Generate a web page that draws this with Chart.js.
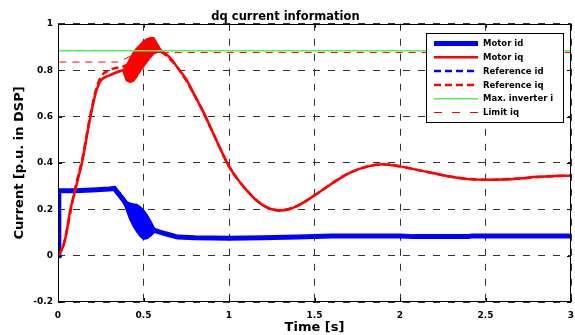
<!DOCTYPE html>
<html lang="en">
<head>
<meta charset="UTF-8" />
<title>dq current information</title>
<script src="https://cdn.jsdelivr.net/npm/chart.js"></script>
<style>
  html, body { margin: 0; padding: 0; background: #fff; }
</style>
</head>
<body>
<canvas id="dqChart" width="575" height="335"></canvas>
<script>
// values (time in s, current in p.u.)
const idTime = [0, 0.005, 0.1, 0.2, 0.3, 0.33, 0.35, 0.38, 0.44, 0.5, 0.56, 0.6, 0.65, 0.7, 0.8, 1.0, 1.2, 1.4, 1.6, 2.0, 2.08, 2.4, 2.42, 3.0];
const idValues = [0, 0.28, 0.28, 0.283, 0.287, 0.29, 0.27, 0.243, 0.175, 0.13, 0.11, 0.1, 0.09, 0.08, 0.077, 0.075, 0.077, 0.08, 0.085, 0.085, 0.082, 0.082, 0.085, 0.085];

const idBandTime = [0.38, 0.40, 0.42, 0.44, 0.46, 0.48, 0.50, 0.52, 0.54, 0.56, 0.58];
const idBandUpper = [0.245, 0.232, 0.225, 0.222, 0.22, 0.21, 0.195, 0.175, 0.15, 0.12, 0.105];
const idBandLower = [0.24, 0.2, 0.16, 0.13, 0.105, 0.085, 0.072, 0.075, 0.085, 0.1, 0.105];

const iqTime = [0, 0.03, 0.05, 0.07, 0.1, 0.12, 0.14, 0.165, 0.19, 0.22, 0.25, 0.3, 0.34, 0.38, 0.44, 0.5, 0.55, 0.6, 0.63, 0.66, 0.7, 0.75, 0.8, 0.85, 0.9, 0.95, 1.0, 1.05, 1.1, 1.15, 1.2, 1.25, 1.3, 1.35, 1.4, 1.45, 1.5, 1.6, 1.7, 1.8, 1.9, 2.0, 2.1, 2.2, 2.3, 2.4, 2.5, 2.6, 2.7, 2.8, 2.9, 3.0];
const iqValues = [0, 0.04, 0.1, 0.19, 0.28, 0.34, 0.4, 0.5, 0.6, 0.7, 0.755, 0.777, 0.79, 0.8, 0.81, 0.86, 0.9, 0.88, 0.87, 0.85, 0.81, 0.76, 0.69, 0.62, 0.54, 0.46, 0.385, 0.33, 0.285, 0.245, 0.217, 0.2, 0.195, 0.2, 0.215, 0.235, 0.26, 0.31, 0.355, 0.383, 0.394, 0.385, 0.37, 0.355, 0.34, 0.33, 0.327, 0.328, 0.333, 0.34, 0.343, 0.345];

const iqBandTime = [0.38, 0.40, 0.42, 0.44, 0.46, 0.48, 0.50, 0.52, 0.54, 0.56, 0.58, 0.60, 0.62];
const iqBandUpper = [0.80, 0.82, 0.85, 0.875, 0.895, 0.91, 0.925, 0.935, 0.94, 0.94, 0.915, 0.89, 0.878];
const iqBandLower = [0.795, 0.755, 0.748, 0.752, 0.77, 0.795, 0.815, 0.835, 0.855, 0.87, 0.877, 0.878, 0.878];

const refIdTime = [0, 0.005, 0.33, 0.36, 0.4, 0.45, 0.5, 0.55, 0.6, 0.7, 1.0, 1.5, 2.0, 2.5, 3.0];
const refIdValues = [0, 0.28, 0.285, 0.27, 0.23, 0.18, 0.13, 0.11, 0.1, 0.08, 0.076, 0.082, 0.085, 0.084, 0.085];

const refIqTime = [0, 0.03, 0.06, 0.1, 0.14, 0.19, 0.22, 0.25, 0.3, 0.34, 0.38, 0.42, 0.46, 0.5, 0.55, 0.6, 0.7, 0.8, 0.9, 1.0, 1.1, 1.2, 1.3, 1.4, 1.5, 1.7, 1.9, 2.1, 2.3, 2.5, 2.7, 2.9, 3.0];
const refIqValues = [0, 0.04, 0.14, 0.29, 0.41, 0.61, 0.71, 0.77, 0.80, 0.81, 0.815, 0.83, 0.85, 0.87, 0.89, 0.88, 0.81, 0.69, 0.54, 0.385, 0.285, 0.217, 0.195, 0.215, 0.26, 0.355, 0.394, 0.37, 0.34, 0.327, 0.333, 0.343, 0.345];

const maxTime = [0, 3];
const maxValues = [0.884, 0.884];

const limitTime = [0, 0, 0.35, 0.40, 0.44, 0.50, 0.56, 3.0];
const limitValues = [0, 0.835, 0.835, 0.852, 0.866, 0.873, 0.876, 0.876];

const xTicks = { min: 0, max: 3, step: 0.5 };
const yTicks = { min: -0.2, max: 1, step: 0.2 };

function pts(xs, ys) {
  return xs.map((x, i) => ({ x: x, y: ys[i] }));
}

// matlab style labels: 0, 0.5, 1 ... no trailing zeros, no -0
function tickText(v) {
  const r = Math.round(v * 10) / 10;
  return r === 0 ? "0" : String(r);
}

const BLUE = "#0000ff";
const RED = "#ff0000";
const GREEN = "#55ee55";
const GRID = "#333";

// frame with small inward ticks, like the matlab axes box
const framePlugin = {
  id: "frame",
  afterDatasetsDraw(chart) {
    const { ctx, chartArea: a, scales } = chart;
    ctx.save();
    ctx.strokeStyle = "#000";
    ctx.lineWidth = 1;
    ctx.beginPath();
    scales.x.ticks.forEach((t) => {
      const px = Math.round(scales.x.getPixelForValue(t.value)) + 0.5;
      ctx.moveTo(px, a.bottom); ctx.lineTo(px, a.bottom - 4);
      ctx.moveTo(px, a.top); ctx.lineTo(px, a.top + 4);
    });
    scales.y.ticks.forEach((t) => {
      const py = Math.round(scales.y.getPixelForValue(t.value)) + 0.5;
      ctx.moveTo(a.left, py); ctx.lineTo(a.left + 4, py);
      ctx.moveTo(a.right, py); ctx.lineTo(a.right - 4, py);
    });
    ctx.stroke();
    ctx.strokeRect(Math.round(a.left) + 0.5, Math.round(a.top) + 0.5,
      Math.round(a.right - a.left) - 1, Math.round(a.bottom - a.top) - 1);
    ctx.restore();
  },
};

// legend box inside the plot (top right)
const boxLegend = {
  id: "boxLegend",
  afterDraw(chart) {
    const ctx = chart.ctx;
    const items = chart.data.datasets.filter((d) => d.showInBox);
    const x0 = 426, y0 = 33, w = 137, h = 89;
    ctx.save();
    ctx.fillStyle = "#fff";
    ctx.fillRect(x0, y0, w, h);
    ctx.strokeStyle = "#000";
    ctx.lineWidth = 1;
    ctx.strokeRect(x0 + 0.5, y0 + 0.5, w, h);
    ctx.font = 'bold 8.5px "DejaVu Sans"';
    ctx.textBaseline = "middle";
    items.forEach((d, i) => {
      const y = y0 + 10.5 + i * 13.8;
      ctx.beginPath();
      ctx.setLineDash(d.legendDash || d.borderDash || []);
      ctx.strokeStyle = d.borderColor;
      ctx.lineWidth = d.borderWidth;
      ctx.moveTo(x0 + 8, y);
      ctx.lineTo(x0 + 52, y);
      ctx.stroke();
      ctx.setLineDash([]);
      ctx.fillStyle = "#000";
      ctx.fillText(d.label, x0 + 57, y + 0.5);
    });
    ctx.restore();
  },
};

Chart.defaults.font.family = '"DejaVu Sans", sans-serif';
Chart.defaults.color = "#000";

const ctx = document.getElementById("dqChart").getContext("2d");
new Chart(ctx, {
  type: "line",
  data: {
    datasets: [
      {
        label: "Motor id", showInBox: true, data: pts(idTime, idValues),
        borderColor: BLUE, borderWidth: 5, order: 8, tension: 0,
      },
      {
        label: "Motor iq", showInBox: true, data: pts(iqTime, iqValues),
        borderColor: RED, borderWidth: 2.5, order: 5, cubicInterpolationMode: "monotone",
      },
      {
        label: "Reference id", showInBox: true, data: pts(refIdTime, refIdValues),
        borderColor: BLUE, borderWidth: 2.5, borderDash: [7, 4], order: 6, tension: 0,
      },
      {
        label: "Reference iq", showInBox: true, data: pts(refIqTime, refIqValues),
        borderColor: RED, borderWidth: 2.5, borderDash: [7, 4], order: 4, cubicInterpolationMode: "monotone",
      },
      {
        label: "Max. inverter i", showInBox: true, data: pts(maxTime, maxValues),
        borderColor: GREEN, borderWidth: 1.5, order: 3,
      },
      {
        label: "Limit iq", showInBox: true, data: pts(limitTime, limitValues),
        borderColor: RED, borderWidth: 1, borderDash: [7, 6], legendDash: [8, 10], order: 2, tension: 0,
      },
      // oscillation envelopes (filled between upper and lower)
      {
        label: "id band", data: pts(idBandTime, idBandUpper),
        borderColor: BLUE, borderWidth: 2, backgroundColor: BLUE, fill: "+1", order: 7,
      },
      {
        label: "id band low", data: pts(idBandTime, idBandLower),
        borderColor: BLUE, borderWidth: 2, fill: false, order: 7,
      },
      {
        label: "iq band", data: pts(iqBandTime, iqBandUpper),
        borderColor: RED, borderWidth: 1.5, backgroundColor: RED, fill: "+1", order: 5,
      },
      {
        label: "iq band low", data: pts(iqBandTime, iqBandLower),
        borderColor: RED, borderWidth: 1.5, fill: false, order: 5,
      },
    ],
  },
  options: {
    responsive: false,
    animation: false,
    elements: { point: { radius: 0 } },
    layout: { padding: { left: 0, right: 4, top: 0, bottom: 0 } },
    plugins: {
      legend: { display: false },
      tooltip: { enabled: false },
      title: {
        display: true,
        text: "dq current information",
        font: { size: 11.5, weight: "bold" },
        color: "#000",
        padding: { top: 10, bottom: 0 },
      },
    },
    scales: {
      x: {
        type: "linear",
        min: xTicks.min,
        max: xTicks.max,
        ticks: {
          stepSize: xTicks.step, font: { size: 9, weight: "bold" }, padding: 8, maxRotation: 0,
          callback: (v) => tickText(v),
        },
        grid: { color: GRID, lineWidth: 1, drawTicks: false },
        border: { display: false, dash: [7, 8] },
        title: {
          display: true,
          text: "Time [s]",
          font: { size: 13, weight: "bold", lineHeight: 1 },
          padding: { top: 0, bottom: 1 },
        },
        afterFit(scale) {
          scale.height = 33;
          scale.paddingLeft = 0;
          scale.paddingRight = 0;
        },
      },
      y: {
        min: yTicks.min,
        max: yTicks.max,
        ticks: {
          stepSize: yTicks.step, font: { size: 9, weight: "bold" }, padding: 5,
          callback: (v) => tickText(v),
        },
        grid: { color: GRID, lineWidth: 1, drawTicks: false },
        border: { display: false, dash: [7, 8] },
        title: {
          display: true,
          text: "Current [p.u. in DSP]",
          font: { size: 13, weight: "bold", lineHeight: 1 },
          padding: { top: 13, bottom: 0 },
        },
        afterFit(scale) {
          scale.width = 58;
          scale.paddingTop = 0;
          scale.paddingBottom = 0;
        },
      },
    },
  },
  plugins: [framePlugin, boxLegend],
});
</script>
</body>
</html>
